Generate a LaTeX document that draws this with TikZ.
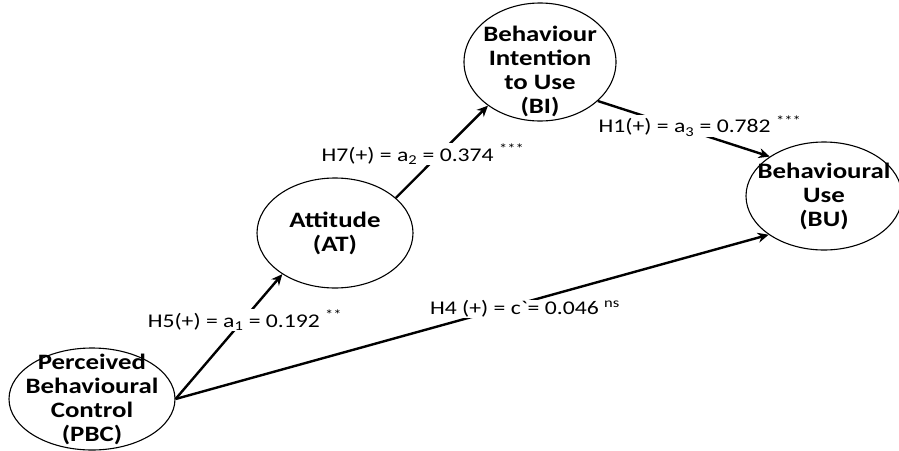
\documentclass[tikz,border=0pt]{standalone}
\usepackage{fontspec}
\setmainfont[FakeStretch=1.22]{Carlito}
% same face without the TeX quote ligatures, for a plain grave accent
\newfontfamily\rawfont[FakeStretch=1.22]{Carlito}
\usetikzlibrary{arrows.meta,shapes.geometric}

\begin{document}
\begin{tikzpicture}[x=1pt,y=-1pt,
  construct/.style={ellipse, draw, line width=1.1pt, inner sep=0pt},
  ctext/.style={inner sep=0pt, align=center,
    font=\bfseries\fontsize{22}{24}\selectfont},
  effect/.style={line width=2.4pt, -{Stealth[length=11pt,width=10pt]}},
  coef/.style={fill=white, inner sep=1pt, font=\fontsize{19.4}{22}\selectfont}]

\path[use as bounding box, clip] (0,0) rectangle (899,450);

% constructs (outline and centred caption)
\node[construct, minimum width=166pt, minimum height=102pt] (PBC) at (92,399) {};
\node[ctext] (PBCt) at (PBC.center) {Perceived\\Behavioural\\Control\\(PBC)};

\node[construct, minimum width=156pt, minimum height=110pt] (AT) at (335,233) {};
\node[ctext] (ATt) at (AT.center) {Attitude\\(AT)};

\node[construct, minimum width=152pt, minimum height=118pt] (BI) at (540,62) {};
\node[ctext, yshift=-9pt] (BIt) at (BI.center) {Behaviour\\Intention\\to Use\\(BI)};

\node[construct, minimum width=156pt, minimum height=108pt] (BU) at (824,196) {};
\node[ctext] (BUt) at (BU.center) {Behavioural\\Use\\(BU)};

% structural paths
\draw[effect] (PBC.east) -- (AT.218);
\draw[effect] (AT.30) -- (BI.220);
\draw[effect] (BI.-34) -- (BU.144);
\draw[effect] (PBC.east) -- (BU.215);

% path coefficients
\node[coef] (h5) at (245,320) {H5(+) = a\textsubscript{1} = 0.192 \textsuperscript{**}};
\node[coef] (h4) at (525,309) {H4 (+) = c{\rawfont\symbol{96}}= 0.046 \textsuperscript{ns}};
\node[coef] (h7) at (423,154) {H7(+) = a\textsubscript{2} = 0.374 \textsuperscript{***}};
\node[coef] (h1) at (700,126) {H1(+) = a\textsubscript{3} = 0.782 \textsuperscript{***}};
\end{tikzpicture}
\end{document}
